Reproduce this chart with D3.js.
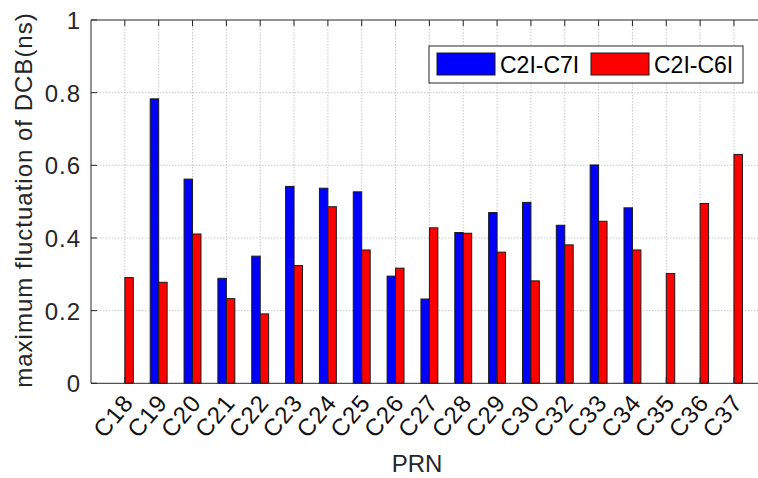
<!DOCTYPE html>
<html><head><meta charset="utf-8">
<script src="https://cdn.jsdelivr.net/npm/d3@7"></script>
<style>body{margin:0;background:#fff;overflow:hidden}svg{display:block}</style>
</head><body>
<svg id="c" width="758" height="478"></svg>
<script>
const categories = ["C18","C19","C20","C21","C22","C23","C24","C25","C26","C27","C28","C29","C30","C32","C33","C34","C35","C36","C37"];
const c7Values = [0, 0.783, 0.562, 0.289, 0.350, 0.542, 0.537, 0.527, 0.295, 0.232, 0.415, 0.470, 0.498, 0.435, 0.601, 0.483, 0, 0, 0];
const c6Values = [0.291, 0.278, 0.411, 0.233, 0.191, 0.324, 0.486, 0.367, 0.317, 0.428, 0.413, 0.361, 0.282, 0.381, 0.446, 0.367, 0.302, 0.495, 0.630];
const yTicks = [0, 0.2, 0.4, 0.6, 0.8, 1];
const seriesNames = ["C2I-C7I", "C2I-C6I"];
const seriesColors = ["#0000ff", "#ff0000"];

const svg = d3.select("#c");
const font = "'Liberation Sans', Arial, sans-serif";
const L = 91, T = 20, B = 383.3, step = 33.84;
const x = d3.scaleLinear().domain([0, categories.length + 1]).range([L, L + step * (categories.length + 1)]);
const y = d3.scaleLinear().domain([0, 1]).range([B, T]);
const R = x(categories.length + 1);
const axisCol = "#262626";

// grid
const g = svg.append("g");
g.selectAll("line.vg").data(categories).enter().append("line")
  .attr("x1", (d, i) => x(i + 1)).attr("x2", (d, i) => x(i + 1))
  .attr("y1", T).attr("y2", B)
  .attr("stroke", "#c8c8c8").attr("stroke-width", 1).attr("stroke-dasharray", "1.5,1.5");
g.selectAll("line.hg").data(yTicks.slice(1, -1)).enter().append("line")
  .attr("x1", L).attr("x2", R).attr("y1", d => y(d)).attr("y2", d => y(d))
  .attr("stroke", "#c8c8c8").attr("stroke-width", 1).attr("stroke-dasharray", "1.5,1.5");

// bars
const bw = step * 0.25;
const series = [c7Values, c6Values];
series.forEach((vals, s) => {
  svg.append("g").selectAll("rect").data(vals).enter().append("rect")
    .attr("x", (d, i) => x(i + 1) + (s === 0 ? -bw : 0))
    .attr("width", bw)
    .attr("y", d => y(d))
    .attr("height", d => y(0) - y(d))
    .attr("fill", seriesColors[s])
    .attr("stroke", "#1a1a1a").attr("stroke-width", 1);
});

// axes box
svg.append("line").attr("x1", L).attr("x2", R).attr("y1", T).attr("y2", T).attr("stroke", axisCol).attr("stroke-width", 1);
svg.append("line").attr("x1", L).attr("x2", R).attr("y1", B).attr("y2", B).attr("stroke", axisCol).attr("stroke-width", 1);
svg.append("line").attr("x1", L).attr("x2", L).attr("y1", T).attr("y2", B).attr("stroke", axisCol).attr("stroke-width", 1);

// ticks (inward)
const tk = svg.append("g").attr("stroke", axisCol).attr("stroke-width", 1);
categories.forEach((c, i) => {
  tk.append("line").attr("x1", x(i + 1)).attr("x2", x(i + 1)).attr("y1", B).attr("y2", B - 6);
  tk.append("line").attr("x1", x(i + 1)).attr("x2", x(i + 1)).attr("y1", T).attr("y2", T + 6);
});
yTicks.forEach(v => {
  tk.append("line").attr("x1", L).attr("x2", L + 6).attr("y1", y(v)).attr("y2", y(v));
});

// y tick labels
svg.append("g").selectAll("text").data(yTicks).enter().append("text")
  .attr("x", L - 10).attr("y", d => y(d) + 9)
  .attr("text-anchor", "end").attr("font-family", font).attr("font-size", 24)
  .attr("letter-spacing", 1).attr("fill", axisCol)
  .text(d => d3.format("~g")(d));

// x tick labels rotated
svg.append("g").selectAll("text").data(categories).enter().append("text")
  .attr("transform", (d, i) => `translate(${x(i + 1) + 10},${B + 20}) rotate(-50)`)
  .attr("text-anchor", "end").attr("font-family", font).attr("font-size", 24)
  .attr("letter-spacing", 1).attr("fill", "#111")
  .text(d => d);

// axis labels
svg.append("text").attr("x", 417).attr("y", 472).attr("text-anchor", "middle")
  .attr("font-family", font).attr("font-size", 24).attr("fill", axisCol).text("PRN");
svg.append("text").attr("transform", `translate(32,200) rotate(-90)`).attr("text-anchor", "middle")
  .attr("font-family", font).attr("font-size", 24).attr("letter-spacing", 1)
  .attr("fill", axisCol).text("maximum fluctuation of DCB(ns)");

// legend
const lg = svg.append("g");
lg.append("rect").attr("x", 429).attr("y", 46).attr("width", 314).attr("height", 37)
  .attr("fill", "#fff").attr("stroke", "#262626").attr("stroke-width", 1);
const legX = [437, 591];
seriesNames.forEach((n, s) => {
  lg.append("rect").attr("x", legX[s]).attr("y", 53).attr("width", 58).attr("height", 22)
    .attr("fill", seriesColors[s]).attr("stroke", "#1a1a1a").attr("stroke-width", 1);
  lg.append("text").attr("x", legX[s] + 63).attr("y", 73)
    .attr("font-family", font).attr("font-size", 23).attr("fill", "#000").text(n);
});
</script>
</body></html>
